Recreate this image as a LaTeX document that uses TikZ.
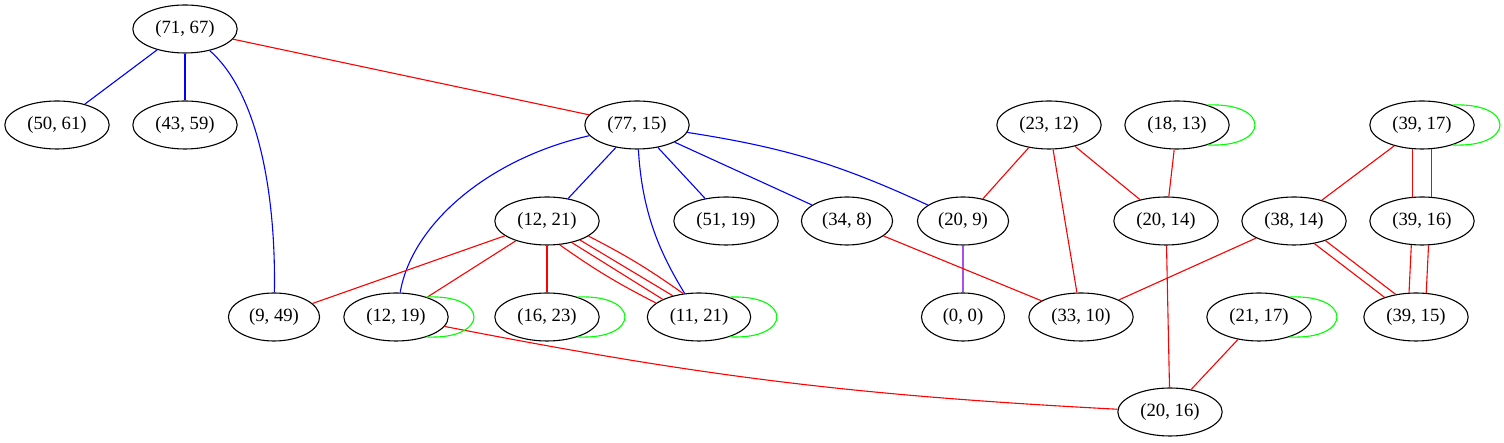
\documentclass[tikz,border=0pt]{standalone}
\usepackage{fontspec}
\setmainfont{Liberation Serif}
\usetikzlibrary{shapes.geometric}
\definecolor{gvpurple}{RGB}{170,80,240}
\begin{document}
\begin{tikzpicture}[x=1pt,y=1pt,line width=1.1pt,
  pair/.style={draw,ellipse,minimum width=83pt,minimum height=48pt,
    inner xsep=7.3pt,inner ysep=2pt,font=\fontsize{18.7}{22}\selectfont},
  redge/.style={red},
  bedge/.style={blue},
  pedge/.style={gvpurple},
  selfedge/.style={green}]
  \useasboundingbox (0,0) rectangle (1504,443);
  \node[pair] (n7167) at (185,414) {(71, 67)};
  \node[pair] (n5061) at (57,318) {(50, 61)};
  \node[pair] (n4359) at (185,318) {(43, 59)};
  \node[pair] (n7715) at (637,318) {(77, 15)};
  \node[pair] (n2312) at (1049,318) {(23, 12)};
  \node[pair] (n1813) at (1177,318) {(18, 13)};
  \node[pair] (n3917) at (1422,318) {(39, 17)};
  \node[pair] (n1221) at (547,222) {(12, 21)};
  \node[pair] (n5119) at (726,222) {(51, 19)};
  \node[pair] (n348) at (847,222) {(34, 8)};
  \node[pair] (n209) at (963,222) {(20, 9)};
  \node[pair] (n2014) at (1166,222) {(20, 14)};
  \node[pair] (n3814) at (1294,222) {(38, 14)};
  \node[pair] (n3916) at (1422,222) {(39, 16)};
  \node[pair] (n949) at (274,126) {(9, 49)};
  \node[pair] (n1219) at (396,126) {(12, 19)};
  \node[pair] (n1623) at (547,126) {(16, 23)};
  \node[pair] (n1121) at (699,126) {(11, 21)};
  \node[pair] (n00) at (963,126) {(0, 0)};
  \node[pair] (n3310) at (1081,126) {(33, 10)};
  \node[pair] (n2117) at (1259,126) {(21, 17)};
  \node[pair] (n3915) at (1416,126) {(39, 15)};
  \node[pair] (n2016) at (1170,31) {(20, 16)};

  \draw[bedge] (n7167) -- (n5061);
  \draw[bedge] (n7167) -- (n4359);
  \draw[bedge] (n7167) .. controls (258,350) and (276,250) .. (n949);
  \draw[redge] (n7167) -- (n7715);
  \draw[bedge] (n7715) -- (n1221);
  \draw[bedge] (n7715) -- (n5119);
  \draw[bedge] (n7715) -- (n348);
  \draw[bedge] (n7715) .. controls (490,285) and (412,220) .. (n1219);
  \draw[bedge] (n7715) .. controls (642,230) and (660,190) .. (n1121);
  \draw[bedge] (n7715) to[bend left=8] (n209);
  \draw[redge] (n1221) -- (n949);
  \draw[redge] (n1221) -- (n1219);
  \draw[redge] (n1221) -- (n1623);
  \draw[redge] (n1221.-62) to[bend right=4] (n1121.162);
  \draw[redge] (n1221.-41) -- (n1121.154);
  \draw[redge] (n1221.-30) -- (n1121.141);
  \draw[redge] (n1221.-20) to[bend left=4] (n1121.124);
  \draw[redge] (n1219) to[bend right=4] (n2016);
  \draw[redge] (n2312) -- (n209);
  \draw[redge] (n2312) -- (n3310);
  \draw[redge] (n2312) -- (n2014);
  \draw[redge] (n1813) -- (n2014);
  \draw[pedge] (n209) -- (n00);
  \draw[redge] (n348) -- (n3310);
  \draw[redge] (n2014) -- (n2016);
  \draw[redge] (n3917) -- (n3814);
  \draw[redge] (n3917.-111) -- (n3916.111);
  \draw[redge] (n3917.-69) -- (n3916.69);
  \draw[redge] (n3916.-114) -- (n3915.106);
  \draw[redge] (n3916.-75) -- (n3915.67);
  \draw[redge] (n3814) -- (n3310);
  \draw[redge] (n3814.-48) -- (n3915.148);
  \draw[redge] (n3814.-32) -- (n3915.132);
  \draw[redge] (n2117) -- (n2016);
  \foreach \n in {n1219,n1623,n1121,n1813,n3917,n2117}
    \draw[selfedge] (\n.33) .. controls +(63,3) and +(63,-3) .. (\n.-33);
\end{tikzpicture}
\end{document}
